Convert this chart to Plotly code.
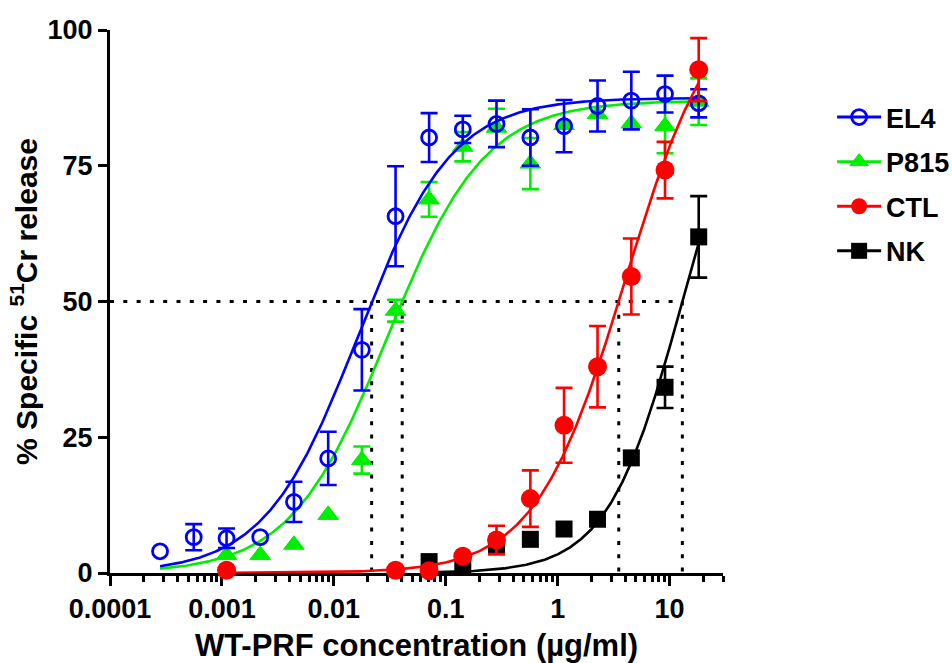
import numpy as np
import plotly.graph_objects as go

# WT-PRF concentration (ug/ml) and % specific 51Cr release (mean, SEM)
el4_x = [0.00028, 0.00056, 0.0011, 0.0022, 0.0044, 0.0089, 0.0178, 0.0356, 0.071,
         0.142, 0.284, 0.57, 1.14, 2.27, 4.55, 9.1, 18.2]
el4_y = [4.0, 6.6, 6.4, 6.6, 13.1, 21.1, 41.1, 65.7, 80.2, 81.7, 82.7, 80.2, 82.3,
         86.0, 87.0, 88.2, 86.5]
el4_err = [0, 2.4, 1.8, 0, 3.7, 4.9, 7.5, 9.2, 4.5, 2.5, 4.3, 5.2, 4.8, 4.7, 5.3, 3.4, 2.6]

p815_x = [0.0011, 0.0022, 0.0044, 0.0089, 0.0178, 0.0356, 0.071, 0.142, 0.284, 0.57,
          1.14, 2.27, 4.55, 9.1, 18.2]
p815_y = [3.3, 3.3, 5.2, 10.7, 20.8, 48.3, 68.8, 78.5, 82.0, 75.4, 82.5, 84.5, 82.8,
          82.3, 86.8]
p815_err = [0, 0, 0, 0, 2.5, 2.0, 3.2, 2.7, 3.5, 4.7, 0, 0, 0, 5.0, 4.3]

ctl_x = [0.0011, 0.0356, 0.071, 0.142, 0.284, 0.57, 1.14, 2.27, 4.55, 9.1, 18.2]
ctl_y = [0.5, 0.5, 0.4, 3.1, 6.1, 13.7, 27.2, 38.0, 54.6, 74.2, 92.7]
ctl_err = [0, 0, 0, 0, 2.6, 5.2, 6.9, 7.5, 7.0, 5.2, 5.8]

nk_x = [0.071, 0.142, 0.284, 0.57, 1.14, 2.27, 4.55, 9.1, 18.2]
nk_y = [2.1, 1.5, 4.8, 6.2, 8.1, 9.9, 21.2, 34.2, 61.9]
nk_err = [0, 0, 0, 0, 0, 0, 0, 3.8, 7.5]

# four-parameter logistic fits: bottom, top, EC50, Hill slope
el4_fit = [0.0, 87.5, 0.0165, 1.04]
p815_fit = [0.0, 87.0, 0.0302, 1.0]
ctl_fit = [0.0, 108.0, 4.03, 1.08]
nk_fit = [0.0, 100.0, 13.0, 1.3]

# x span over which each fitted curve is drawn
el4_span = [0.00028, 18.2]
p815_span = [0.00028, 18.2]
ctl_span = [0.0011, 18.2]
nk_span = [0.071, 18.2]

half_max = 50

x_tick_vals = [0.0001, 0.001, 0.01, 0.1, 1, 10]
x_tick_text = ["0.0001", "0.001", "0.01", "0.1", "1", "10"]
x_minor_vals = [m * 10.0 ** e for e in range(-4, 2) for m in range(2, 10) if m * 10.0 ** e <= 30]
y_tick_vals = [0, 25, 50, 75, 100]

FONT = "Liberation Sans, Arial, Helvetica, sans-serif"


def logistic(x, p):
    b, t, ec, h = p
    return b + (t - b) / (1.0 + (ec / x) ** h)


def crossing(p, level):
    b, t, ec, h = p
    return ec / (((t - b) / (level - b)) - 1.0) ** (1.0 / h)


series = [
    dict(name="EL4", x=el4_x, y=el4_y, err=el4_err, fit=el4_fit, span=el4_span,
         color="#0000ff", marker=dict(symbol="circle-open", size=15, line=dict(width=2.8))),
    dict(name="P815", x=p815_x, y=p815_y, err=p815_err, fit=p815_fit, span=p815_span,
         color="#00ee00", marker=dict(symbol="triangle-up", size=18, line=dict(width=1))),
    dict(name="CTL", x=ctl_x, y=ctl_y, err=ctl_err, fit=ctl_fit, span=ctl_span,
         color="#ff0000", marker=dict(symbol="circle", size=19, line=dict(width=0))),
    dict(name="NK", x=nk_x, y=nk_y, err=nk_err, fit=nk_fit, span=nk_span,
         color="#000000", marker=dict(symbol="square", size=17, line=dict(width=0))),
]

fig = go.Figure()

# dotted guides at 50% release down to each curve's crossing point
x50 = [crossing(s["fit"], half_max) for s in series]
gx = [x_tick_vals[0], max(x50)]
gy = [half_max, half_max]
for v in x50:
    gx += [None, v, v]
    gy += [None, half_max, 0]
fig.add_trace(go.Scatter(x=gx, y=gy, mode="lines", showlegend=False, hoverinfo="skip",
                         line=dict(color="black", width=3, dash="4px,9.3px")))

draw_order = ["NK", "P815", "EL4", "CTL"]
by_name = {s["name"]: s for s in series}
for nm in draw_order:
    s = by_name[nm]
    cx = np.geomspace(s["span"][0], s["span"][1], 400)
    fig.add_trace(go.Scatter(x=cx, y=logistic(cx, s["fit"]), mode="lines", showlegend=False,
                             hoverinfo="skip", line=dict(color=s["color"], width=2.6)))
    xs = np.array(s["x"])
    ys = np.array(s["y"])
    es = np.array(s["err"])
    m = es > 0
    fig.add_trace(go.Scatter(x=xs[m], y=ys[m], mode="markers", showlegend=False,
                             hoverinfo="skip", cliponaxis=False,
                             marker=dict(size=2, opacity=0, color=s["color"]),
                             error_y=dict(type="data", array=es[m], visible=True,
                                          color=s["color"], thickness=2.6, width=8.5)))
    mk = dict(s["marker"])
    mk["color"] = s["color"]
    mk["line"] = dict(mk["line"], color=s["color"])
    fig.add_trace(go.Scatter(x=s["x"], y=s["y"], mode="markers", showlegend=False,
                             cliponaxis=False, marker=mk, name=s["name"]))

# legend entries: line with marker
for s in series:
    mk = dict(s["marker"])
    mk["color"] = s["color"]
    mk["line"] = dict(mk["line"], color=s["color"])
    fig.add_trace(go.Scatter(x=[None], y=[None], mode="lines+markers", name=s["name"],
                             legendgroup=s["name"], marker=mk,
                             line=dict(color=s["color"], width=3)))

fig.update_layout(
    width=952, height=663,
    margin=dict(l=110, r=229, t=30, b=90, autoexpand=False),
    plot_bgcolor="white", paper_bgcolor="white",
    font=dict(family=FONT, size=27, color="black", weight="bold"),
    legend=dict(x=1.178, y=0.884, xanchor="left", yanchor="top", traceorder="grouped",
                tracegroupgap=6.5, itemwidth=44, bgcolor="rgba(0,0,0,0)",
                font=dict(family=FONT, size=27, color="black", weight="bold")),
)

fig.update_xaxes(
    type="log", range=[np.log10(x_tick_vals[0]), np.log10(30)],
    tickmode="array", tickvals=x_tick_vals, ticktext=x_tick_text,
    ticks="outside", ticklen=10, tickwidth=3, tickcolor="black",
    minor=dict(tickmode="array", tickvals=x_minor_vals, ticks="outside", ticklen=6,
               tickwidth=2.5, tickcolor="black", showgrid=False),
    showline=True, linewidth=3, linecolor="black", showgrid=False, zeroline=False,
    layer="below traces", automargin=False,
    title=dict(text="WT-PRF concentration (µg/ml)", font=dict(size=31), standoff=14),
)
fig.update_yaxes(
    range=[0, 100], tickmode="array", tickvals=y_tick_vals,
    ticks="outside", ticklen=9, tickwidth=3, tickcolor="black",
    showline=True, linewidth=3, linecolor="black", showgrid=False, zeroline=False,
    layer="below traces", automargin=False,
    title=dict(text="% Specific <sup>51</sup>Cr release", font=dict(size=30), standoff=2),
)

fig.write_html("out.html")
